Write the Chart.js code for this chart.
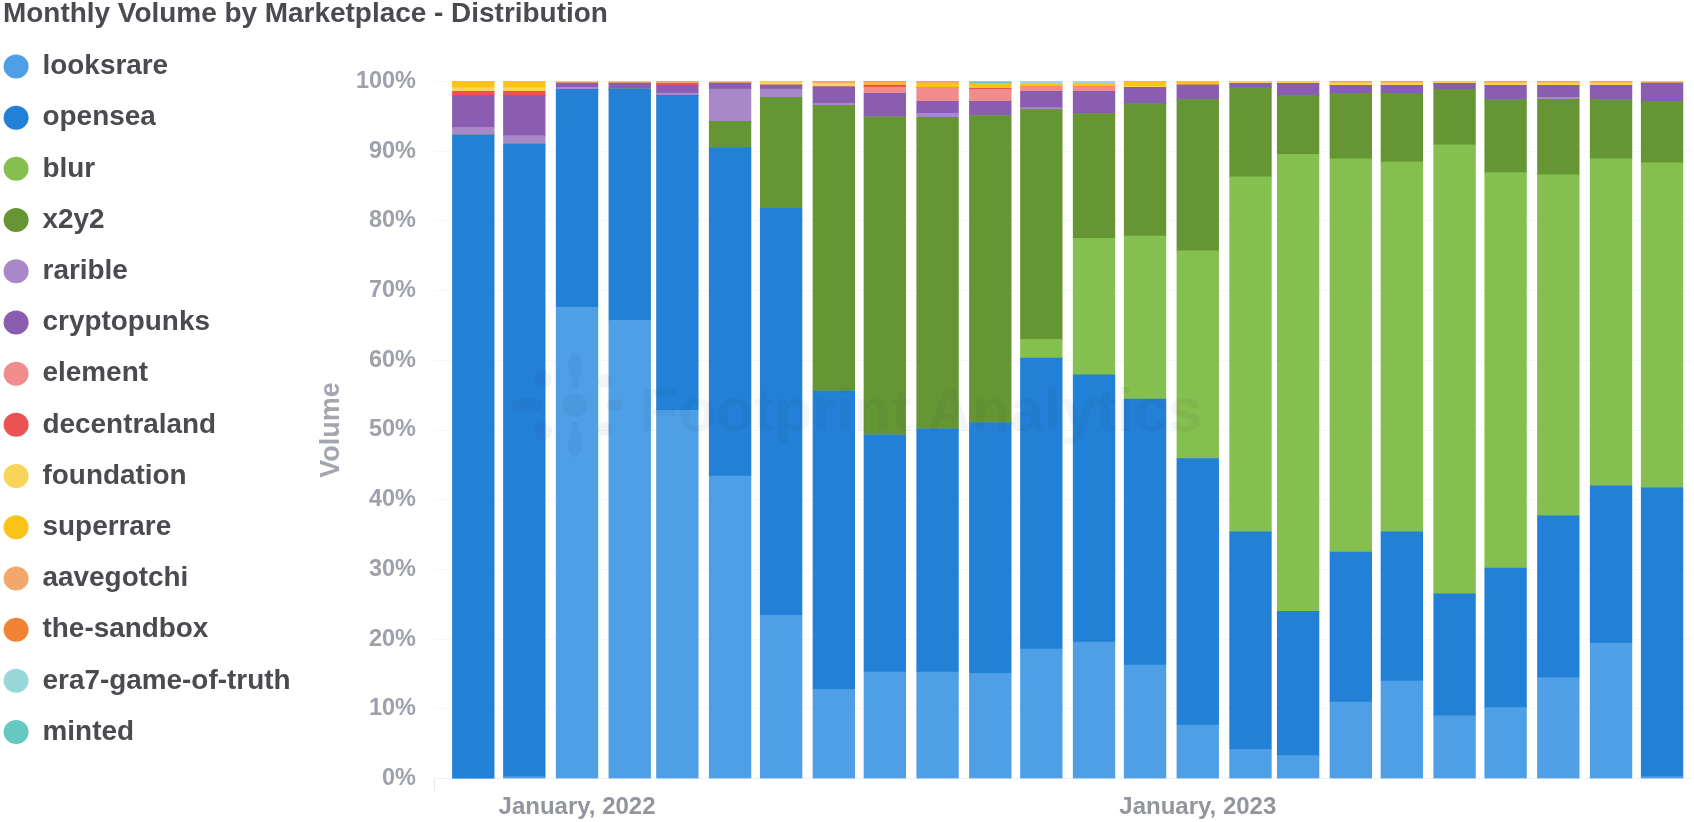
<!DOCTYPE html>
<html>
<head>
<meta charset="utf-8">
<title>Monthly Volume by Marketplace - Distribution</title>
<script src="https://cdn.jsdelivr.net/npm/chart.js@4"></script>
<style>
  html, body { margin: 0; padding: 0; background: #fff; overflow: hidden; }
  #wrap { position: relative; width: 1694px; height: 822px; }
  #barChart { display: block; }
  #markText { position: absolute; left: 640px; top: 374px; font: bold 62px "Liberation Sans", sans-serif; color: rgba(30, 50, 80, 0.055); pointer-events: none; white-space: nowrap; }
  #markLogo { position: absolute; left: 505px; top: 350px; pointer-events: none; }
</style>
</head>
<body>
<div id="wrap">
  <canvas id="barChart" width="1694" height="822"></canvas>
  <svg id="markLogo" width="140" height="110" viewBox="-70 -55 140 110" fill="rgba(30,50,80,0.06)">
    <circle r="12"></circle>
    <ellipse cy="-38" rx="7" ry="14"></ellipse>
    <ellipse cy="38" rx="7" ry="14"></ellipse>
    <ellipse cx="-48" rx="16" ry="7"></ellipse>
    <ellipse cx="40" rx="9" ry="6"></ellipse>
    <circle cx="-32" cy="-26" r="9"></circle>
    <circle cx="30" cy="-24" r="7"></circle>
    <circle cx="-32" cy="26" r="9"></circle>
    <circle cx="30" cy="24" r="7"></circle>
    <circle cy="-20" r="4"></circle>
    <circle cy="20" r="4"></circle>
  </svg>
  <div id="markText">Footprint Analytics</div>
</div>
<script>
var months = ['2021-11-01','2021-12-01','2022-01-01','2022-02-01','2022-03-01','2022-04-01','2022-05-01','2022-06-01','2022-07-01','2022-08-01','2022-09-01','2022-10-01','2022-11-01','2022-12-01','2023-01-01','2023-02-01','2023-03-01','2023-04-01','2023-05-01','2023-06-01','2023-07-01','2023-08-01','2023-09-01','2023-10-01'];
var tickMonths = ['2022-01-01','2023-01-01'];
var tickLabels = ['January, 2022','January, 2023'];

var looksrare = [0,0.3,67.6,65.7,52.8,43.4,23.4,12.8,15.3,15.3,15.1,18.6,19.6,16.3,7.7,4.2,3.3,11,14,9,10.2,14.5,19.4,0.3];
var opensea = [92.3,90.7,31.25,33.2,45.2,47.1,58.4,42.8,34,34.85,35.95,41.7,38.3,38.15,38.2,31.2,20.7,21.5,21.4,17.5,20,23.2,22.6,41.4];
var blur = [0,0,0,0,0,0,0,0,0,0,0,2.7,19.6,23.35,29.8,50.9,65.5,56.4,53,64.4,56.7,48.9,46.9,46.6];
var x2y2 = [0,0,0,0,0,3.76,15.9,40.95,45.6,44.68,44.05,32.93,17.86,19.04,21.67,12.84,8.5,9.38,9.88,7.95,10.52,10.8,8.52,8.83];
var rarible = [1.1,1.2,0.29,0,0.3,4.64,1.2,0.29,0,0.57,0,0.29,0,0,0,0,0,0,0,0,0,0.3,0,0];
var cryptopunks = [4.6,5.8,0.61,0.85,1.13,0.85,0.57,2.35,3.38,1.73,2.03,2.34,3.2,2.3,2.1,0.57,1.71,1.15,1.15,0.86,2.01,1.73,2.01,2.63];
var element = [0,0,0,0,0,0,0,0,0.86,2.01,1.73,0.63,0.63,0,0,0,0,0,0,0,0,0,0,0];
var decentraland = [0.56,0.56,0,0,0.28,0,0,0,0.33,0,0.14,0,0,0,0,0,0,0,0,0,0,0,0,0];
var foundation = [0.54,0.54,0.25,0.25,0,0.25,0.53,0.52,0,0,0,0,0,0.14,0,0.29,0.29,0.3,0.3,0.29,0.3,0.3,0.3,0.24];
var superrare = [0.9,0.9,0,0,0,0,0,0,0.3,0.57,0.67,0.38,0.38,0.72,0.53,0,0,0,0,0,0,0,0,0];
var aavegotchi = [0,0,0,0,0.29,0,0,0.29,0.13,0.29,0,0,0,0,0,0,0,0.27,0.27,0,0.27,0.27,0.27,0];
var theSandbox = [0,0,0,0,0,0,0,0,0.1,0,0,0,0,0,0,0,0,0,0,0,0,0,0,0];
var era7 = [0,0,0,0,0,0,0,0,0,0,0,0.43,0.43,0,0,0,0,0,0,0,0,0,0,0];
var minted = [0,0,0,0,0,0,0,0,0,0,0.33,0,0,0,0,0,0,0,0,0,0,0,0,0];

var seriesNames = ['looksrare','opensea','blur','x2y2','rarible','cryptopunks','element','decentraland','foundation','superrare','aavegotchi','the-sandbox','era7-game-of-truth','minted'];
var seriesValues = [looksrare,opensea,blur,x2y2,rarible,cryptopunks,element,decentraland,foundation,superrare,aavegotchi,theSandbox,era7,minted];
var seriesColors = ['#4f9fe6','#2280d6','#85bf4f','#669634','#a888c8','#8a5db0','#f08c8c','#eb5252','#f9d45a','#fbc318','#f4a76a','#f08434','#98d8d8','#66c8c0'];

//months sit on a day scale so the gaps follow the month lengths
function toDay(month) {
    return Date.parse(month + 'T00:00:00Z') / 86400000;
}

var days = months.map(toDay);
var tickDays = tickMonths.map(toDay);
var axisStart = days[0] - 23.1;
var axisEnd = days[days.length - 1] + 17.6;

var datasets = seriesNames.map(function(name, s) {
    return {
        label: name,
        data: seriesValues[s].map(function(v, i) { return {x: days[i], y: v}; }),
        backgroundColor: seriesColors[s],
        borderWidth: 0,
        barThickness: 41.7,
        stack: 'all'
    };
});

//title and legend overlap the plot's top band, so put them back after layout
var placeHeader = {
    id: 'placeHeader',
    afterLayout: function(chart) {
        chart.titleBlock.top = 0;
        chart.titleBlock.bottom = 28;
        chart.legend.left = -19.7;
        chart.legend.top = 29.2;
    }
};

var ctx = document.getElementById('barChart').getContext('2d');
var chart = new Chart(ctx, {
    type: 'bar',
    data: {datasets: datasets},
    plugins: [placeHeader],
    options: {
        responsive: false,
        animation: false,
        layout: {padding: {left: 3, right: 2, top: 0, bottom: 0}},
        plugins: {
            title: {
                display: true,
                text: 'Monthly Volume by Marketplace - Distribution',
                align: 'start',
                color: '#4a4a50',
                font: {family: '"Liberation Sans"', size: 27.95, weight: 'bold', lineHeight: 1},
                padding: 0
            },
            legend: {
                position: 'left',
                align: 'start',
                labels: {
                    usePointStyle: true,
                    pointStyle: 'circle',
                    boxHeight: 17,
                    pointStyleWidth: 25,
                    padding: 23.3,
                    color: '#4a4a50',
                    font: {family: '"Liberation Sans"', size: 27.9, weight: 'bold'}
                }
            },
            tooltip: {enabled: false}
        },
        scales: {
            x: {
                type: 'linear',
                stacked: true,
                offset: false,
                min: axisStart,
                max: axisEnd,
                afterBuildTicks: function(scale) {
                    scale.ticks = [{value: axisStart}].concat(tickDays.map(function(d) { return {value: d}; }));
                },
                afterFit: function(scale) { scale.height = 43.3; },
                border: {color: '#edeff2'},
                grid: {
                    offset: false,
                    drawOnChartArea: false,
                    tickLength: 12,
                    tickColor: function(c) { return c.index === 0 ? '#e6e8ea' : 'transparent'; }
                },
                ticks: {
                    autoSkip: false,
                    maxRotation: 0,
                    padding: 2,
                    color: '#92959e',
                    font: {family: '"Liberation Sans"', size: 24, weight: 'bold'},
                    callback: function(value) {
                        var at = tickDays.indexOf(value);
                        return at < 0 ? '' : tickLabels[at];
                    }
                }
            },
            y: {
                stacked: true,
                min: 0,
                max: 100,
                afterFit: function(scale) {
                    scale.width = 434 - scale.chart.legend.width - 3;
                    scale.paddingTop = 81.3;
                },
                border: {display: false},
                grid: {color: '#f6f7f8', drawTicks: false},
                title: {
                    display: true,
                    text: 'Volume',
                    color: '#a3a6b0',
                    font: {family: '"Liberation Sans"', size: 27, weight: 'bold'},
                    padding: -8
                },
                ticks: {
                    stepSize: 10,
                    padding: 18,
                    color: '#9ea1ab',
                    font: {family: '"Liberation Sans"', size: 23.5, weight: 'bold'},
                    callback: function(value) { return value + '%'; }
                }
            }
        }
    }
});
</script>
</body>
</html>
